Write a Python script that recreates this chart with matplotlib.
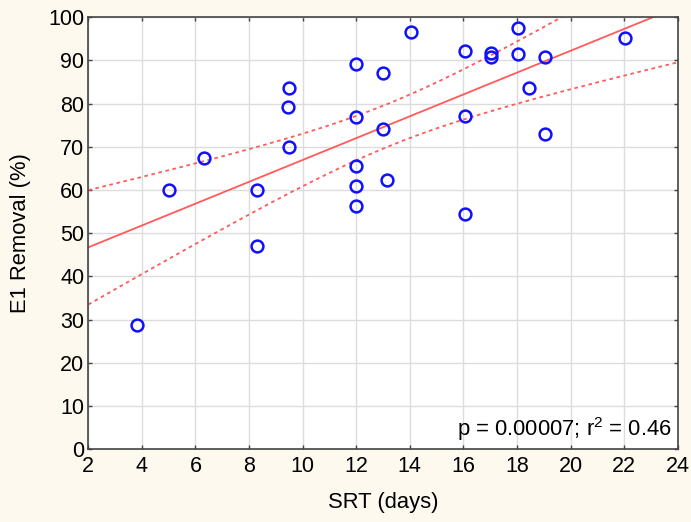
import numpy as np
import matplotlib
matplotlib.use("Agg")
import matplotlib.pyplot as plt

# SRT (days) vs E1 removal (%)
srt = [3.8, 5.0, 6.3, 8.3, 8.3, 9.5, 9.45, 9.5,
       12.0, 12.0, 12.0, 12.0, 12.0, 13.0, 13.0, 13.15,
       14.05, 16.05, 16.05, 16.05, 17.05, 17.05,
       18.05, 18.05, 18.45, 19.05, 19.05, 22.05]
e1_removal = [28.8, 59.9, 67.4, 60.1, 47.0, 83.6, 79.2, 69.9,
              89.1, 76.8, 65.6, 60.9, 56.2, 87.0, 74.2, 62.4,
              96.7, 92.1, 77.2, 54.5, 91.7, 90.9,
              97.6, 91.5, 83.6, 90.8, 73.0, 95.2]
x_ticks = list(range(2, 25, 2))
y_ticks = list(range(0, 101, 10))
stats_label = "p = 0.00007; r$^2$ = 0.46"

plt.rcParams['font.family'] = ['Liberation Sans', 'DejaVu Sans']
plt.rcParams['mathtext.fontset'] = 'custom'
plt.rcParams['mathtext.rm'] = 'Liberation Sans'

x = np.array(srt)
y = np.array(e1_removal)
n = len(x)
slope, intercept = np.polyfit(x, y, 1)
resid = y - (slope * x + intercept)
s = np.sqrt(np.sum(resid ** 2) / (n - 2))
sxx = np.sum((x - x.mean()) ** 2)
t_crit = 2.0555  # t(0.975, df=26)

xs = np.linspace(2, 24, 200)
fit = slope * xs + intercept
half = t_crit * s * np.sqrt(1.0 / n + (xs - x.mean()) ** 2 / sxx)

fig = plt.figure(figsize=(6.91, 5.22), dpi=100)
fig.patch.set_facecolor('#fdf9ee')
ax = fig.add_axes([0.1278, 0.1398, 0.8529, 0.8271])
ax.set_facecolor('white')

ax.grid(True, color='#dcdcdc', linewidth=1.0, zorder=0)
ax.plot(xs, fit, color='#ff5a5a', linewidth=1.3, zorder=2)
ax.plot(xs, fit + half, color='#ff5a5a', linewidth=1.3, linestyle=(0, (2, 2)), zorder=2)
ax.plot(xs, fit - half, color='#ff5a5a', linewidth=1.3, linestyle=(0, (2, 2)), zorder=2)
ax.plot(x, y, 'o', markerfacecolor='none', markeredgecolor='#1010ff',
        markersize=8.5, markeredgewidth=1.8, zorder=3, clip_on=False)

ax.set_xlim(2, 24)
ax.set_ylim(0, 100)
ax.set_xticks(x_ticks)
ax.set_yticks(y_ticks)
ax.tick_params(direction='in', length=3, width=1, color='#444444',
               labelsize=15.5, top=True, right=True)
ax.tick_params(axis='x', pad=5)
ax.tick_params(axis='y', pad=3)
for sp in ax.spines.values():
    sp.set_color('#444444')
    sp.set_linewidth(1.2)

ax.set_xlabel("SRT (days)", fontsize=15.8, labelpad=11)
ax.set_ylabel("E1 Removal (%)", fontsize=15.8, labelpad=12)
ax.text(0.99, 0.015, stats_label, transform=ax.transAxes,
        ha='right', va='bottom', fontsize=15.8, zorder=4)

fig.savefig("out.png", dpi=100, facecolor=fig.get_facecolor())
